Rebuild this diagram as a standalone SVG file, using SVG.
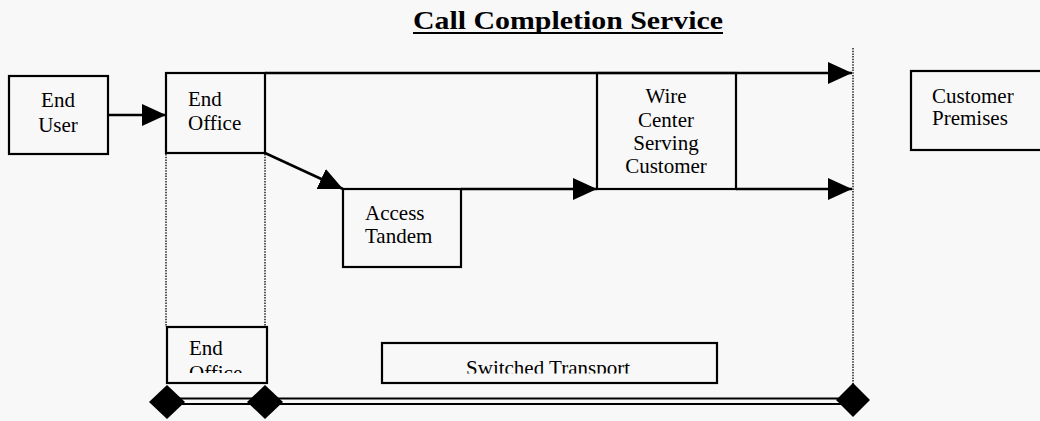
<svg xmlns="http://www.w3.org/2000/svg" width="1040" height="421" viewBox="0 0 1040 421">
<style>
.bg{fill:#f8f8f8}
.box{fill:none;stroke:#000;stroke-width:2.2}
.ln{fill:none;stroke:#000;stroke-width:2.5}
.dot{fill:none;stroke:#000;stroke-width:1.3;stroke-dasharray:1.5 1.2}
.t{font-family:"Liberation Serif","Times New Roman",serif;font-size:21px;fill:#000}
.ttl{font-family:"Liberation Serif","Times New Roman",serif;font-size:25px;font-weight:bold;fill:#000}
</style>
<defs>
<marker id="ah" viewBox="0 0 24 22" refX="24" refY="11" markerWidth="24" markerHeight="22" markerUnits="userSpaceOnUse" orient="auto">
<path d="M0,0 L24,11 L0,22 Z" fill="#000"/>
</marker>
<clipPath id="c1"><rect x="167" y="327" width="100" height="46"/></clipPath>
<clipPath id="c2"><rect x="382" y="343" width="335" height="30.5"/></clipPath>
</defs>
<rect class="bg" x="0" y="0" width="1040" height="421"/>
<g id="title">
<text class="ttl" x="413" y="29" textLength="310" lengthAdjust="spacingAndGlyphs">Call Completion Service</text>
<line x1="413" y1="33" x2="723" y2="33" stroke="#000" stroke-width="2"/>
</g>
<g id="connectors">
<line class="ln" x1="108" y1="115" x2="166" y2="115" marker-end="url(#ah)"/>
<line class="ln" x1="265" y1="73" x2="852" y2="73" marker-end="url(#ah)"/>
<line class="ln" x1="265" y1="153" x2="343" y2="189" marker-end="url(#ah)"/>
<line class="ln" x1="461" y1="189" x2="597" y2="189" marker-end="url(#ah)"/>
<line class="ln" x1="736" y1="189" x2="852" y2="189" marker-end="url(#ah)"/>
<line class="dot" x1="166" y1="154" x2="166" y2="327"/>
<line class="dot" x1="265" y1="154" x2="265" y2="327"/>
<line class="dot" x1="853" y1="48" x2="853" y2="385"/>
<line x1="170" y1="398.5" x2="850" y2="398.5" stroke="#000" stroke-width="2"/>
<line x1="170" y1="404" x2="850" y2="404" stroke="#000" stroke-width="2"/>
<path d="M167,385 L185,402 L167,419 L149,402 Z" fill="#000"/>
<path d="M265,385 L283,402 L265,419 L247,402 Z" fill="#000"/>
<path d="M853,383 L870,400 L853,417 L836,400 Z" fill="#000"/>
</g>
<g id="end-user">
<rect class="box" x="9" y="76" width="99" height="78"/>
<text class="t" x="58" y="107" text-anchor="middle">End</text>
<text class="t" x="58" y="132" text-anchor="middle">User</text>
</g>
<g id="end-office">
<rect class="box" x="166" y="73" width="99" height="80"/>
<text class="t" x="188" y="106">End</text>
<text class="t" x="188" y="130">Office</text>
</g>
<g id="access-tandem">
<rect class="box" x="343" y="189" width="118" height="78"/>
<text class="t" x="365" y="220">Access</text>
<text class="t" x="365" y="243">Tandem</text>
</g>
<g id="wire-center">
<rect class="box" x="597" y="73" width="139" height="116"/>
<text class="t" x="666" y="103" text-anchor="middle">Wire</text>
<text class="t" x="666" y="127" text-anchor="middle">Center</text>
<text class="t" x="666" y="150" text-anchor="middle">Serving</text>
<text class="t" x="666" y="173" text-anchor="middle">Customer</text>
</g>
<g id="customer-premises">
<rect class="box" x="911" y="71" width="140" height="79"/>
<text class="t" x="932" y="103">Customer</text>
<text class="t" x="932" y="125">Premises</text>
</g>
<g id="end-office-2">
<rect class="box" x="167" y="327" width="100" height="56"/>
<g clip-path="url(#c1)">
<text class="t" x="189" y="355">End</text>
<text class="t" x="189" y="380">Office</text>
</g>
</g>
<g id="switched-transport">
<rect class="box" x="382" y="343" width="335" height="40"/>
<g clip-path="url(#c2)">
<text class="t" x="548" y="375" text-anchor="middle">Switched Transport</text>
</g>
</g>
</svg>
